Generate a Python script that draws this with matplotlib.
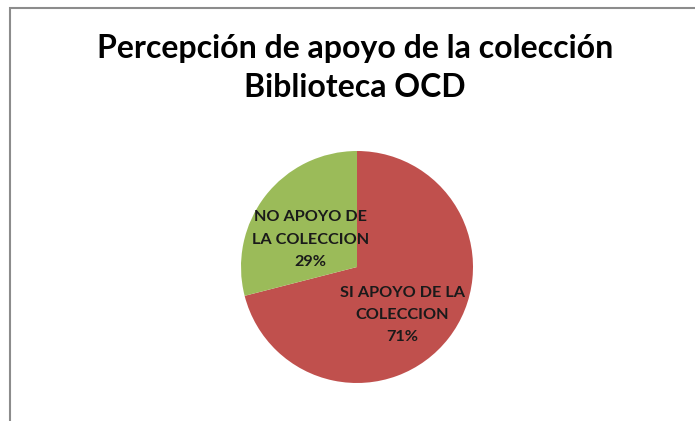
import matplotlib
matplotlib.use('Agg')
import matplotlib.pyplot as plt
import matplotlib.patches as mpatches

plt.rcParams['font.family'] = ['Lato', 'DejaVu Sans']

# ── Data ──────────────────────────────────────────────────────────────────────
title = 'Percepción de apoyo de la colección\nBiblioteca OCD'
categories = ['SI APOYO DE LA\nCOLECCION', 'NO APOYO DE\nLA COLECCION']
values = [71, 29]
colors = ['#C0504D', '#9BBB59']
label_xy = [(0.39, -0.415), (-0.40, 0.235)]

# ── Figure ────────────────────────────────────────────────────────────────────
W, H = 695, 421
fig = plt.figure(figsize=(W / 100, H / 100), dpi=100)

# chart-area border (only top and left visible in the crop)
fig.add_artist(mpatches.Rectangle((9.5 / W, -0.1), 2, 1 - 8.5 / H + 0.1,
                                  transform=fig.transFigure, fill=False,
                                  edgecolor='#8c8c8c', linewidth=1.5))

fig.text(355 / W, 1 - 68 / H, title, ha='center', va='center',
         fontsize=23, fontweight='bold', linespacing=1.45)

cx, cy, r = 357, 267, 116
ax = fig.add_axes([(cx - r) / W, (H - cy - r) / H, 2 * r / W, 2 * r / H])
wedges, _ = ax.pie(values, colors=colors, startangle=90, counterclock=False,
                   wedgeprops=dict(linewidth=0))
ax.set_xlim(-1, 1)
ax.set_ylim(-1, 1)
ax.set_aspect('equal')

total = sum(values)
for name, v, (x, y) in zip(categories, values, label_xy):
    ax.text(x, y, f'{name}\n{round(100 * v / total)}%', ha='center',
            va='center', fontsize=11.7, fontweight='bold', color='#1a1a1a',
            linespacing=1.75)

fig.savefig('out.png', dpi=100)
